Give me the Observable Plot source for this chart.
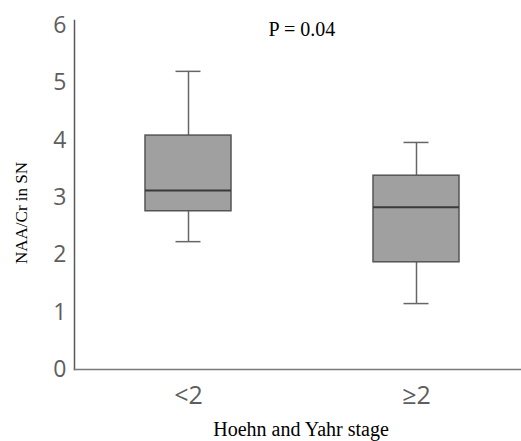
<!DOCTYPE html>
<html>
<head>
<meta charset="utf-8">
<script src="https://cdn.jsdelivr.net/npm/d3@7"></script>
<script src="https://cdn.jsdelivr.net/npm/@observablehq/plot@0.6"></script>
<style>
  html, body { margin: 0; padding: 0; background: #fff; }
</style>
</head>
<body>
<div id="chart"></div>
<script>
const groups = ["<2", "≥2"];
const whiskerLow = [2.23, 1.15];
const q1 = [2.76, 1.87];
const median = [3.12, 2.83];
const q3 = [4.08, 3.38];
const whiskerHigh = [5.2, 3.96];
const yTicks = [0, 1, 2, 3, 4, 5, 6];
const yLabel = "NAA/Cr in SN";
const xLabel = "Hoehn and Yahr stage";
const pText = "P = 0.04";

const rows = groups.map((g, i) => ({
  group: g, lo: whiskerLow[i], q1: q1[i], med: median[i], q3: q3[i], hi: whiskerHigh[i]
}));

const sans = "'Open Sans', sans-serif";
const serif = "'Liberation Serif', 'Times New Roman', serif";
const grayText = "#5e5e5e";

const chart = Plot.plot({
  width: 521,
  height: 441,
  marginLeft: 74,
  marginRight: 0,
  marginTop: 20,
  marginBottom: 72,
  style: { background: "#fff" },
  x: { type: "band", domain: groups, range: [74, 530], paddingInner: 0.623, paddingOuter: 0.311 },
  y: { domain: [0, 6.087] },
  marks: [
    Plot.frame({ anchor: "left", stroke: "#595959", strokeWidth: 1.5 }),
    Plot.frame({ anchor: "bottom", stroke: "#7a7a7a", strokeWidth: 1.5 }),
    Plot.axisY(yTicks, { tickSize: 0, tickPadding: 8, tickFormat: d3.format("d"), fontSize: 23, fill: grayText, fontFamily: sans, label: null }),
    Plot.axisX({ tickSize: 0, tickPadding: 17, fontSize: 25, fill: grayText, fontFamily: sans, label: null }),
    Plot.ruleX(rows, { x: "group", y1: "q3", y2: "hi", stroke: "#666", strokeWidth: 1.5 }),
    Plot.ruleX(rows, { x: "group", y1: "lo", y2: "q1", stroke: "#666", strokeWidth: 1.5 }),
    Plot.tickY(rows, { x: "group", y: "hi", stroke: "#666", strokeWidth: 1.5, insetLeft: 30.5, insetRight: 30.5 }),
    Plot.tickY(rows, { x: "group", y: "lo", stroke: "#666", strokeWidth: 1.5, insetLeft: 30.5, insetRight: 30.5 }),
    Plot.barY(rows, { x: "group", y1: "q1", y2: "q3", fill: "#a0a0a0", stroke: "#555", strokeWidth: 1.5 }),
    Plot.tickY(rows, { x: "group", y: "med", stroke: "#3a3a3a", strokeWidth: 2 }),
    Plot.text([pText], { text: d => d, frameAnchor: "top-left", dx: 194, dy: 9, textAnchor: "start", lineAnchor: "middle", fontSize: 20, fontFamily: serif, fill: "#000" }),
    Plot.text([xLabel], { text: d => d, frameAnchor: "bottom", dx: 3, dy: 60, textAnchor: "middle", lineAnchor: "middle", fontSize: 20, fontFamily: serif, fill: "#000" }),
    Plot.text([yLabel], { text: d => d, frameAnchor: "left", dx: -53, dy: 18, rotate: -90, textAnchor: "middle", lineAnchor: "middle", fontSize: 17, fontFamily: serif, fill: "#000" })
  ]
});
document.getElementById("chart").appendChild(chart);
</script>
</body>
</html>
